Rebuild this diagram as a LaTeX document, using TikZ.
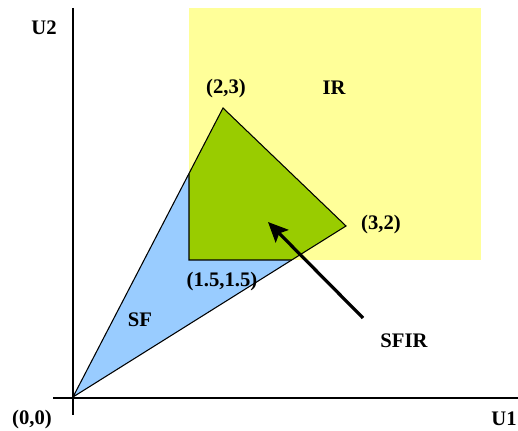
\documentclass[tikz,border=0pt]{standalone}
\usepackage{fontspec}
\setmainfont{Liberation Serif}
\usetikzlibrary{arrows.meta}

\definecolor{irYellow}{HTML}{FFFF99}
\definecolor{sfBlue}{HTML}{99CCFF}
\definecolor{sfirGreen}{HTML}{99CC00}

\begin{document}
\begin{tikzpicture}[x=0.75pt,y=-0.75pt,
  lbl/.style={font=\fontsize{15.5}{18}\selectfont\bfseries,inner sep=0pt}]
\useasboundingbox (0,0) rectangle (518,431);

% points
\coordinate (O) at (73,397);
\coordinate (P23) at (223,108);
\coordinate (P32) at (346,226);
\coordinate (P15) at (189,260);
\coordinate (IRtl) at (189,8);
\coordinate (IRbr) at (481,260);

% individually rational region
\fill[irYellow] (IRtl) rectangle (IRbr);

% feasible set
\fill[sfBlue] (O) -- (P23) -- (P32) -- cycle;
\begin{scope}
\clip (IRtl) rectangle (IRbr);
\fill[sfirGreen] (O) -- (P23) -- (P32) -- cycle;
\end{scope}

\coordinate (A) at (intersection of O--P23 and P15--IRtl);
\coordinate (B) at (intersection of O--P32 and P15--IRbr);
\draw[line width=0.8pt] (O) -- (P23) -- (P32) -- cycle;
\draw[line width=0.8pt] (A) -- (P15) -- (B);

% axes
\coordinate (yTop) at (73,8);
\coordinate (yBot) at (73,415);
\coordinate (xLeft) at (53,398);
\coordinate (xRight) at (520,398);
\draw[line width=1pt] (yTop) -- (yBot);
\draw[line width=1pt] (xLeft) -- (xRight);

% arrow
\coordinate (tail) at (363,318);
\coordinate (head) at (268,222);
\draw[line width=2.4pt,-{Stealth[length=15pt,width=13.5pt,inset=3pt]}] (tail) -- (head);

% labels
\node[lbl] (u2) at (44,28) {U2};
\node[lbl] (u1) at (504,419) {U1};
\node[lbl] (orig) at (32,420) {(0,0)};
\node[lbl] (l23) at (226,89) {(2,3)};
\node[lbl] (l32) at (381,225) {(3,2)};
\node[lbl] (l15) at (222,282) {(1.5,1.5)};
\node[lbl] (ir) at (334,88) {IR};
\node[lbl] (sf) at (140,320) {SF};
\node[lbl] (sfir) at (404,341) {SFIR};
\end{tikzpicture}
\end{document}
